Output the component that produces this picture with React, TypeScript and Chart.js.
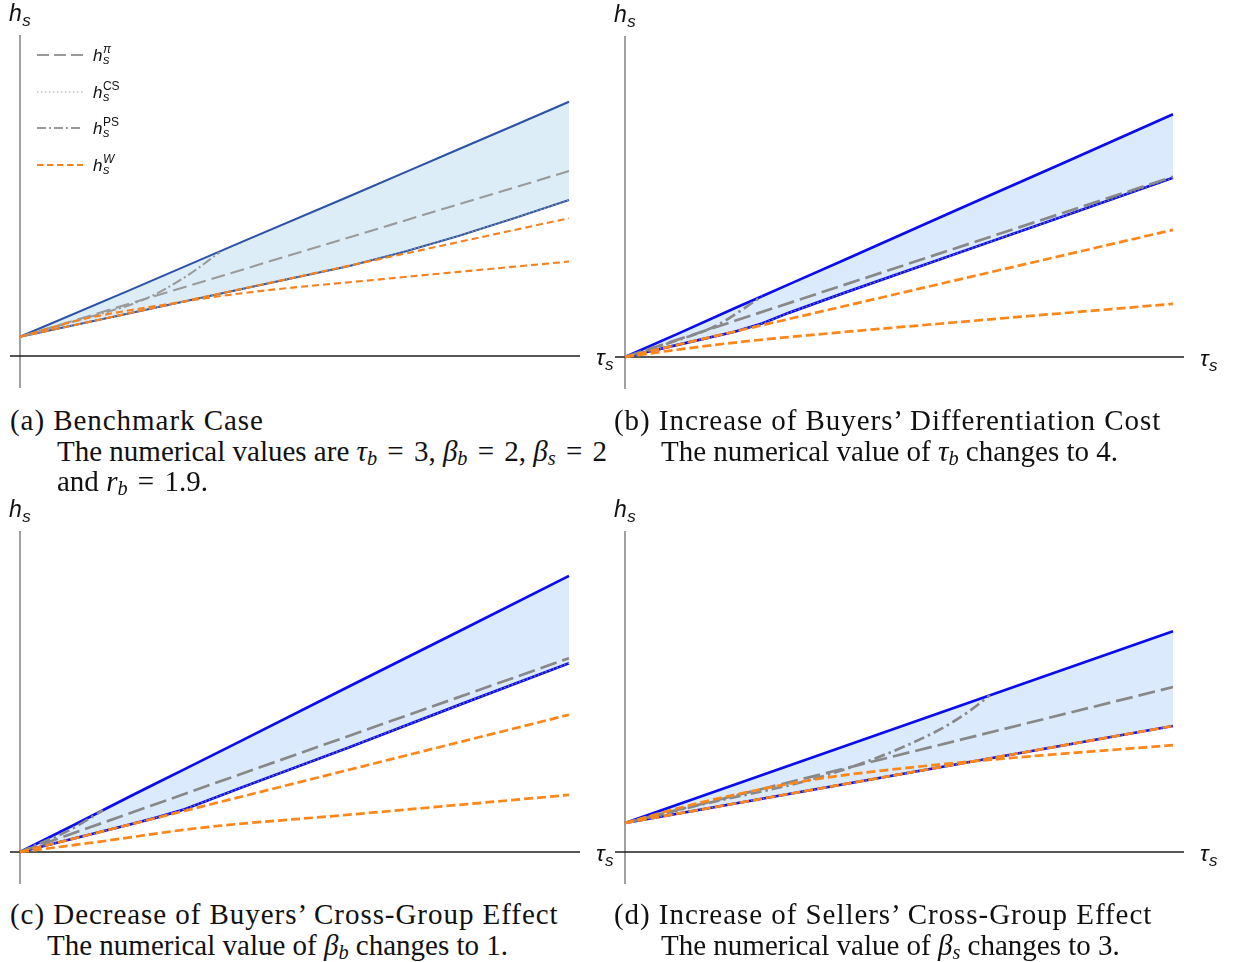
import React, { useEffect, useRef } from "react";
import { Chart, registerables } from "chart.js";
Chart.register(...registerables);

// ---------------- data (x = τ_s, y = h_s) ----------------
// (a) Benchmark case
const aBandX = [0, 2, 4, 6, 7, 8, 9, 10];
const aUpper = [0.35, 1.2, 2.06, 2.91, 3.34, 3.77, 4.2, 4.63];
const aLower = [0.35, 0.78, 1.21, 1.64, 1.9, 2.19, 2.51, 2.84];
const aPiX = [0, 10];
const aPi = [0.35, 3.37];
const aPsX = [0, 1.09, 2.28, 3.01, 3.64];
const aPs = [0.35, 0.66, 1.04, 1.44, 1.89];
const aW1X = [0, 10];
const aW1 = [0.35, 2.51];
const aW2X = [0, 1.1, 2.6, 4.1, 6.6, 10];
const aW2 = [0.35, 0.66, 0.93, 1.15, 1.4, 1.72];

// (b) Increase of buyers' differentiation cost
const bBandX = [0, 1, 2, 2.5, 3, 4, 6, 8, 10];
const bUpper = [0, 0.44, 0.89, 1.11, 1.33, 1.77, 2.66, 3.54, 4.43];
const bLower = [0, 0.23, 0.46, 0.61, 0.81, 1.17, 1.87, 2.57, 3.27];
const bPiX = [0, 10];
const bPi = [0, 3.29];
const bPsX = [0, 0.82, 1.68, 2.5];
const bPs = [0, 0.26, 0.58, 1.11];
const bW1X = [0, 10];
const bW1 = [0, 2.32];
const bW2X = [0, 1, 2.15, 3.38, 6, 10];
const bW2 = [0, 0.14, 0.28, 0.4, 0.63, 0.97];

// (c) Decrease of buyers' cross-group effect
const cBandX = [0, 1, 2, 2.5, 3, 4, 6, 8, 10];
const cUpper = [0, 0.5, 1.01, 1.26, 1.51, 2.01, 3.02, 4.02, 5.03];
const cLower = [0, 0.25, 0.5, 0.63, 0.78, 1.16, 1.91, 2.68, 3.44];
const cPiX = [0, 10];
const cPi = [0, 3.53];
const cPsX = [0, 0.9, 1.51];
const cPs = [0, 0.4, 0.76];
const cW1X = [0, 10];
const cW1 = [0, 2.5];
const cW2X = [0, 1.46, 3.28, 6, 10];
const cW2 = [0, 0.19, 0.44, 0.68, 1.04];

// (d) Increase of sellers' cross-group effect
const dBandX = [0, 10];
const dUpper = [0.53, 4.03];
const dLower = [0.53, 2.3];
const dPiX = [0, 10];
const dPi = [0.53, 3.01];
const dPsX = [0, 1.37, 3.8, 5.62, 6.24, 6.66];
const dPs = [0.53, 0.86, 1.44, 2.17, 2.54, 2.86];
const dW1X = [0, 10];
const dW1 = [0.53, 2.3];
const dW2X = [0, 1.37, 3.43, 5.38, 7.21, 10];
const dW2 = [0.53, 0.9, 1.32, 1.56, 1.73, 1.95];

const legendLabels = ["π", "CS", "PS", "W"];

const X_MAX = 10;
const Y_MAX = 6;

type Style = {
  blue: string; fill: string; grey: string; orange: string;
  width: number; piDash: number[]; psDash: number[]; wDash: number[];
};
const styleA: Style = {
  blue: "#2b52a6", fill: "#dcedf8", grey: "#9a9a9a", orange: "#f5821f",
  width: 2.1, piDash: [14, 6], psDash: [10, 3, 2, 3], wDash: [7, 4],
};
const styleB: Style = {
  blue: "#0b0bf0", fill: "#dbeafc", grey: "#888888", orange: "#ff8618",
  width: 2.7, piDash: [17, 6], psDash: [11, 4, 2.5, 4], wDash: [9, 4],
};

const CS_DASH = [1.5, 2.5];

const pts = (xs: number[], ys: number[]) => xs.map((x, i) => ({ x, y: ys[i] }));

type PanelDef = {
  left: number; top: number; w: number; h: number;
  axisX: number; axisY: number; endX: number;
  style: Style; legend: boolean;
  band: [number[], number[], number[]];
  pi: [number[], number[]];
  ps: [number[], number[]];
  w1: [number[], number[]];
  w2: [number[], number[]];
};

const panels: PanelDef[] = [
  { left: 0, top: 0, w: 618, h: 400, axisX: 20, axisY: 356, endX: 569, style: styleA, legend: true,
    band: [aBandX, aUpper, aLower], pi: [aPiX, aPi], ps: [aPsX, aPs], w1: [aW1X, aW1], w2: [aW2X, aW2] },
  { left: 605, top: 0, w: 631, h: 400, axisX: 625, axisY: 357, endX: 1173, style: styleB, legend: false,
    band: [bBandX, bUpper, bLower], pi: [bPiX, bPi], ps: [bPsX, bPs], w1: [bW1X, bW1], w2: [bW2X, bW2] },
  { left: 0, top: 490, w: 618, h: 400, axisX: 20, axisY: 852, endX: 569, style: styleB, legend: false,
    band: [cBandX, cUpper, cLower], pi: [cPiX, cPi], ps: [cPsX, cPs], w1: [cW1X, cW1], w2: [cW2X, cW2] },
  { left: 605, top: 490, w: 631, h: 400, axisX: 625, axisY: 852, endX: 1173, style: styleB, legend: false,
    band: [dBandX, dUpper, dLower], pi: [dPiX, dPi], ps: [dPsX, dPs], w1: [dW1X, dW1], w2: [dW2X, dW2] },
];

const SANS = '"Liberation Sans", Arial, sans-serif';

function drawSym(ctx: CanvasRenderingContext2D, base: string, x: number, y: number, size: number, sub?: string, sup?: string, supItalic?: boolean) {
  ctx.font = `italic ${size}px ${SANS}`;
  ctx.fillText(base, x, y);
  const w = ctx.measureText(base).width;
  const small = Math.round(size * 0.74);
  if (sub) {
    ctx.font = `italic ${small}px ${SANS}`;
    ctx.fillText(sub, x + w + 0.5, y + size * 0.2);
  }
  if (sup) {
    ctx.font = `${supItalic ? "italic " : ""}${Math.round(size * 0.68)}px ${SANS}`;
    ctx.fillText(sup, x + w + 0.5, y - size * 0.45);
  }
}

function makePlugin(p: PanelDef) {
  return {
    id: "axesAndLabels",
    beforeDatasetsDraw(chart: any) {
      const ctx = chart.ctx as CanvasRenderingContext2D;
      const x0 = chart.scales.x.getPixelForValue(0);
      const x1 = chart.scales.x.getPixelForValue(X_MAX);
      const y0 = chart.scales.y.getPixelForValue(0);
      ctx.save();
      ctx.lineWidth = 1.6;
      ctx.strokeStyle = "#8a8a8a";
      ctx.beginPath();
      ctx.moveTo(x0, y0 - 321);
      ctx.lineTo(x0, y0 + 32);
      ctx.stroke();
      ctx.lineWidth = 1.3;
      ctx.strokeStyle = "#1e1e1e";
      ctx.beginPath();
      ctx.moveTo(x0 - 10, y0);
      ctx.lineTo(x1 + 11, y0);
      ctx.stroke();
      ctx.restore();
    },
    afterDraw(chart: any) {
      const ctx = chart.ctx as CanvasRenderingContext2D;
      const x0 = chart.scales.x.getPixelForValue(0);
      const x1 = chart.scales.x.getPixelForValue(X_MAX);
      const y0 = chart.scales.y.getPixelForValue(0);
      ctx.save();
      ctx.fillStyle = "#111";
      ctx.textBaseline = "alphabetic";
      drawSym(ctx, "h", x0 - 11, y0 - 335, 23, "s");
      drawSym(ctx, "τ", x1 + 27, y0 + 9, 23, "s");
      if (p.legend) {
        const rows = [
          { dash: [12, 5], color: p.style.grey },
          { dash: CS_DASH, color: p.style.grey },
          { dash: [9, 3, 2, 3], color: p.style.grey },
          { dash: [6.5, 3.5], color: p.style.orange },
        ];
        const ys = [-301, -264, -228, -191];
        rows.forEach((r, i) => {
          const yy = y0 + ys[i];
          ctx.save();
          ctx.strokeStyle = r.color;
          ctx.lineWidth = i === 1 ? 1.2 : 1.8;
          ctx.setLineDash(r.dash);
          ctx.beginPath();
          ctx.moveTo(x0 + 17, yy);
          ctx.lineTo(x0 + 63, yy);
          ctx.stroke();
          ctx.restore();
          const lab = legendLabels[i];
          const italicSup = lab === "π" || lab === "W";
          drawSym(ctx, "h", x0 + 73, yy + 6, 17, "s", lab, italicSup);
        });
      }
      ctx.restore();
    },
  };
}

function Panel({ p }: { p: PanelDef }) {
  const ref = useRef<HTMLCanvasElement | null>(null);
  useEffect(() => {
    if (!ref.current) return;
    const ppu = (p.endX - p.axisX) / X_MAX;
    const areaTop = p.axisY - Y_MAX * ppu;
    const s = p.style;
    const common = { pointRadius: 0, pointHoverRadius: 0, borderWidth: s.width, tension: 0, clip: false as any };
    const chart = new Chart(ref.current, {
      type: "line",
      data: {
        datasets: [
          { ...common, label: "upper", data: pts(p.band[0], p.band[1]), borderColor: s.blue, backgroundColor: s.fill, fill: "+1", order: 6 },
          { ...common, label: "lower", data: pts(p.band[0], p.band[2]), borderColor: s.blue, fill: false, order: 6 },
          { ...common, label: "CS", data: pts(p.band[0], p.band[2]), borderColor: s.grey, borderWidth: 1.2, borderDash: CS_DASH, fill: false, order: 5 },
          { ...common, label: "π", data: pts(p.pi[0], p.pi[1]), borderColor: s.grey, borderDash: s.piDash, fill: false, order: 4 },
          { ...common, label: "PS", data: pts(p.ps[0], p.ps[1]), borderColor: s.grey, borderDash: s.psDash, fill: false, cubicInterpolationMode: "monotone", order: 4 },
          { ...common, label: "W1", data: pts(p.w1[0], p.w1[1]), borderColor: s.orange, borderDash: s.wDash, fill: false, order: 1 },
          { ...common, label: "W2", data: pts(p.w2[0], p.w2[1]), borderColor: s.orange, borderDash: s.wDash, fill: false, cubicInterpolationMode: "monotone", order: 1 },
        ] as any,
      },
      options: {
        animation: false,
        responsive: false,
        events: [],
        layout: {
          padding: {
            left: p.axisX - p.left,
            right: p.left + p.w - p.endX,
            top: areaTop - p.top,
            bottom: p.top + p.h - p.axisY,
          },
        },
        scales: {
          x: { type: "linear", min: 0, max: X_MAX, display: false },
          y: { type: "linear", min: 0, max: Y_MAX, display: false },
        },
        plugins: {
          legend: { display: false },
          tooltip: { enabled: false },
          filler: { drawTime: "beforeDatasetsDraw" } as any,
        },
      },
      plugins: [makePlugin(p)],
    });
    return () => chart.destroy();
  }, [p]);
  return (
    <canvas
      ref={ref}
      width={p.w}
      height={p.h}
      style={{ position: "absolute", left: p.left, top: p.top, width: p.w, height: p.h }}
    />
  );
}

const SERIF = '"Liberation Serif", "Times New Roman", serif';
const capStyle: React.CSSProperties = {
  position: "absolute",
  fontFamily: SERIF,
  fontSize: 29,
  letterSpacing: 0.95,
  lineHeight: "32px",
  whiteSpace: "nowrap",
  color: "#111",
};
const descStyle: React.CSSProperties = { ...capStyle, letterSpacing: 0 };

const M = ({ v, sub }: { v: string; sub?: string }) => (
  <span>
    <i>{v}</i>
    {sub ? (
      <i style={{ fontSize: "0.7em", position: "relative", top: "0.22em" }}>{sub}</i>
    ) : null}
  </span>
);
const Eq = () => <span style={{ margin: "0 3px" }}>=</span>;

export default function App() {
  return (
    <div style={{ position: "absolute", left: 0, top: 0, width: 1236, height: 962, background: "#fff", overflow: "hidden" }}>
      {panels.map((p, i) => (
        <Panel key={i} p={p} />
      ))}
      <div style={{ ...capStyle, left: 10, top: 404 }}>(a) Benchmark Case</div>
      <div style={{ ...descStyle, left: 57, top: 435 }}>
        The numerical values are <M v="τ" sub="b" /> <Eq /> 3, <M v="β" sub="b" /> <Eq /> 2, <M v="β" sub="s" /> <Eq /> 2
      </div>
      <div style={{ ...descStyle, left: 57, top: 465 }}>
        and <M v="r" sub="b" /> <Eq /> 1.9.
      </div>
      <div style={{ ...capStyle, left: 614, top: 404 }}>(b) Increase of Buyers’ Differentiation Cost</div>
      <div style={{ ...descStyle, left: 661, top: 435 }}>
        The numerical value of <M v="τ" sub="b" /> changes to 4.
      </div>
      <div style={{ ...capStyle, left: 10, top: 898 }}>(c) Decrease of Buyers’ Cross-Group Effect</div>
      <div style={{ ...descStyle, left: 47, top: 929 }}>
        The numerical value of <M v="β" sub="b" /> changes to 1.
      </div>
      <div style={{ ...capStyle, left: 614, top: 898 }}>(d) Increase of Sellers’ Cross-Group Effect</div>
      <div style={{ ...descStyle, left: 661, top: 929 }}>
        The numerical value of <M v="β" sub="s" /> changes to 3.
      </div>
    </div>
  );
}
